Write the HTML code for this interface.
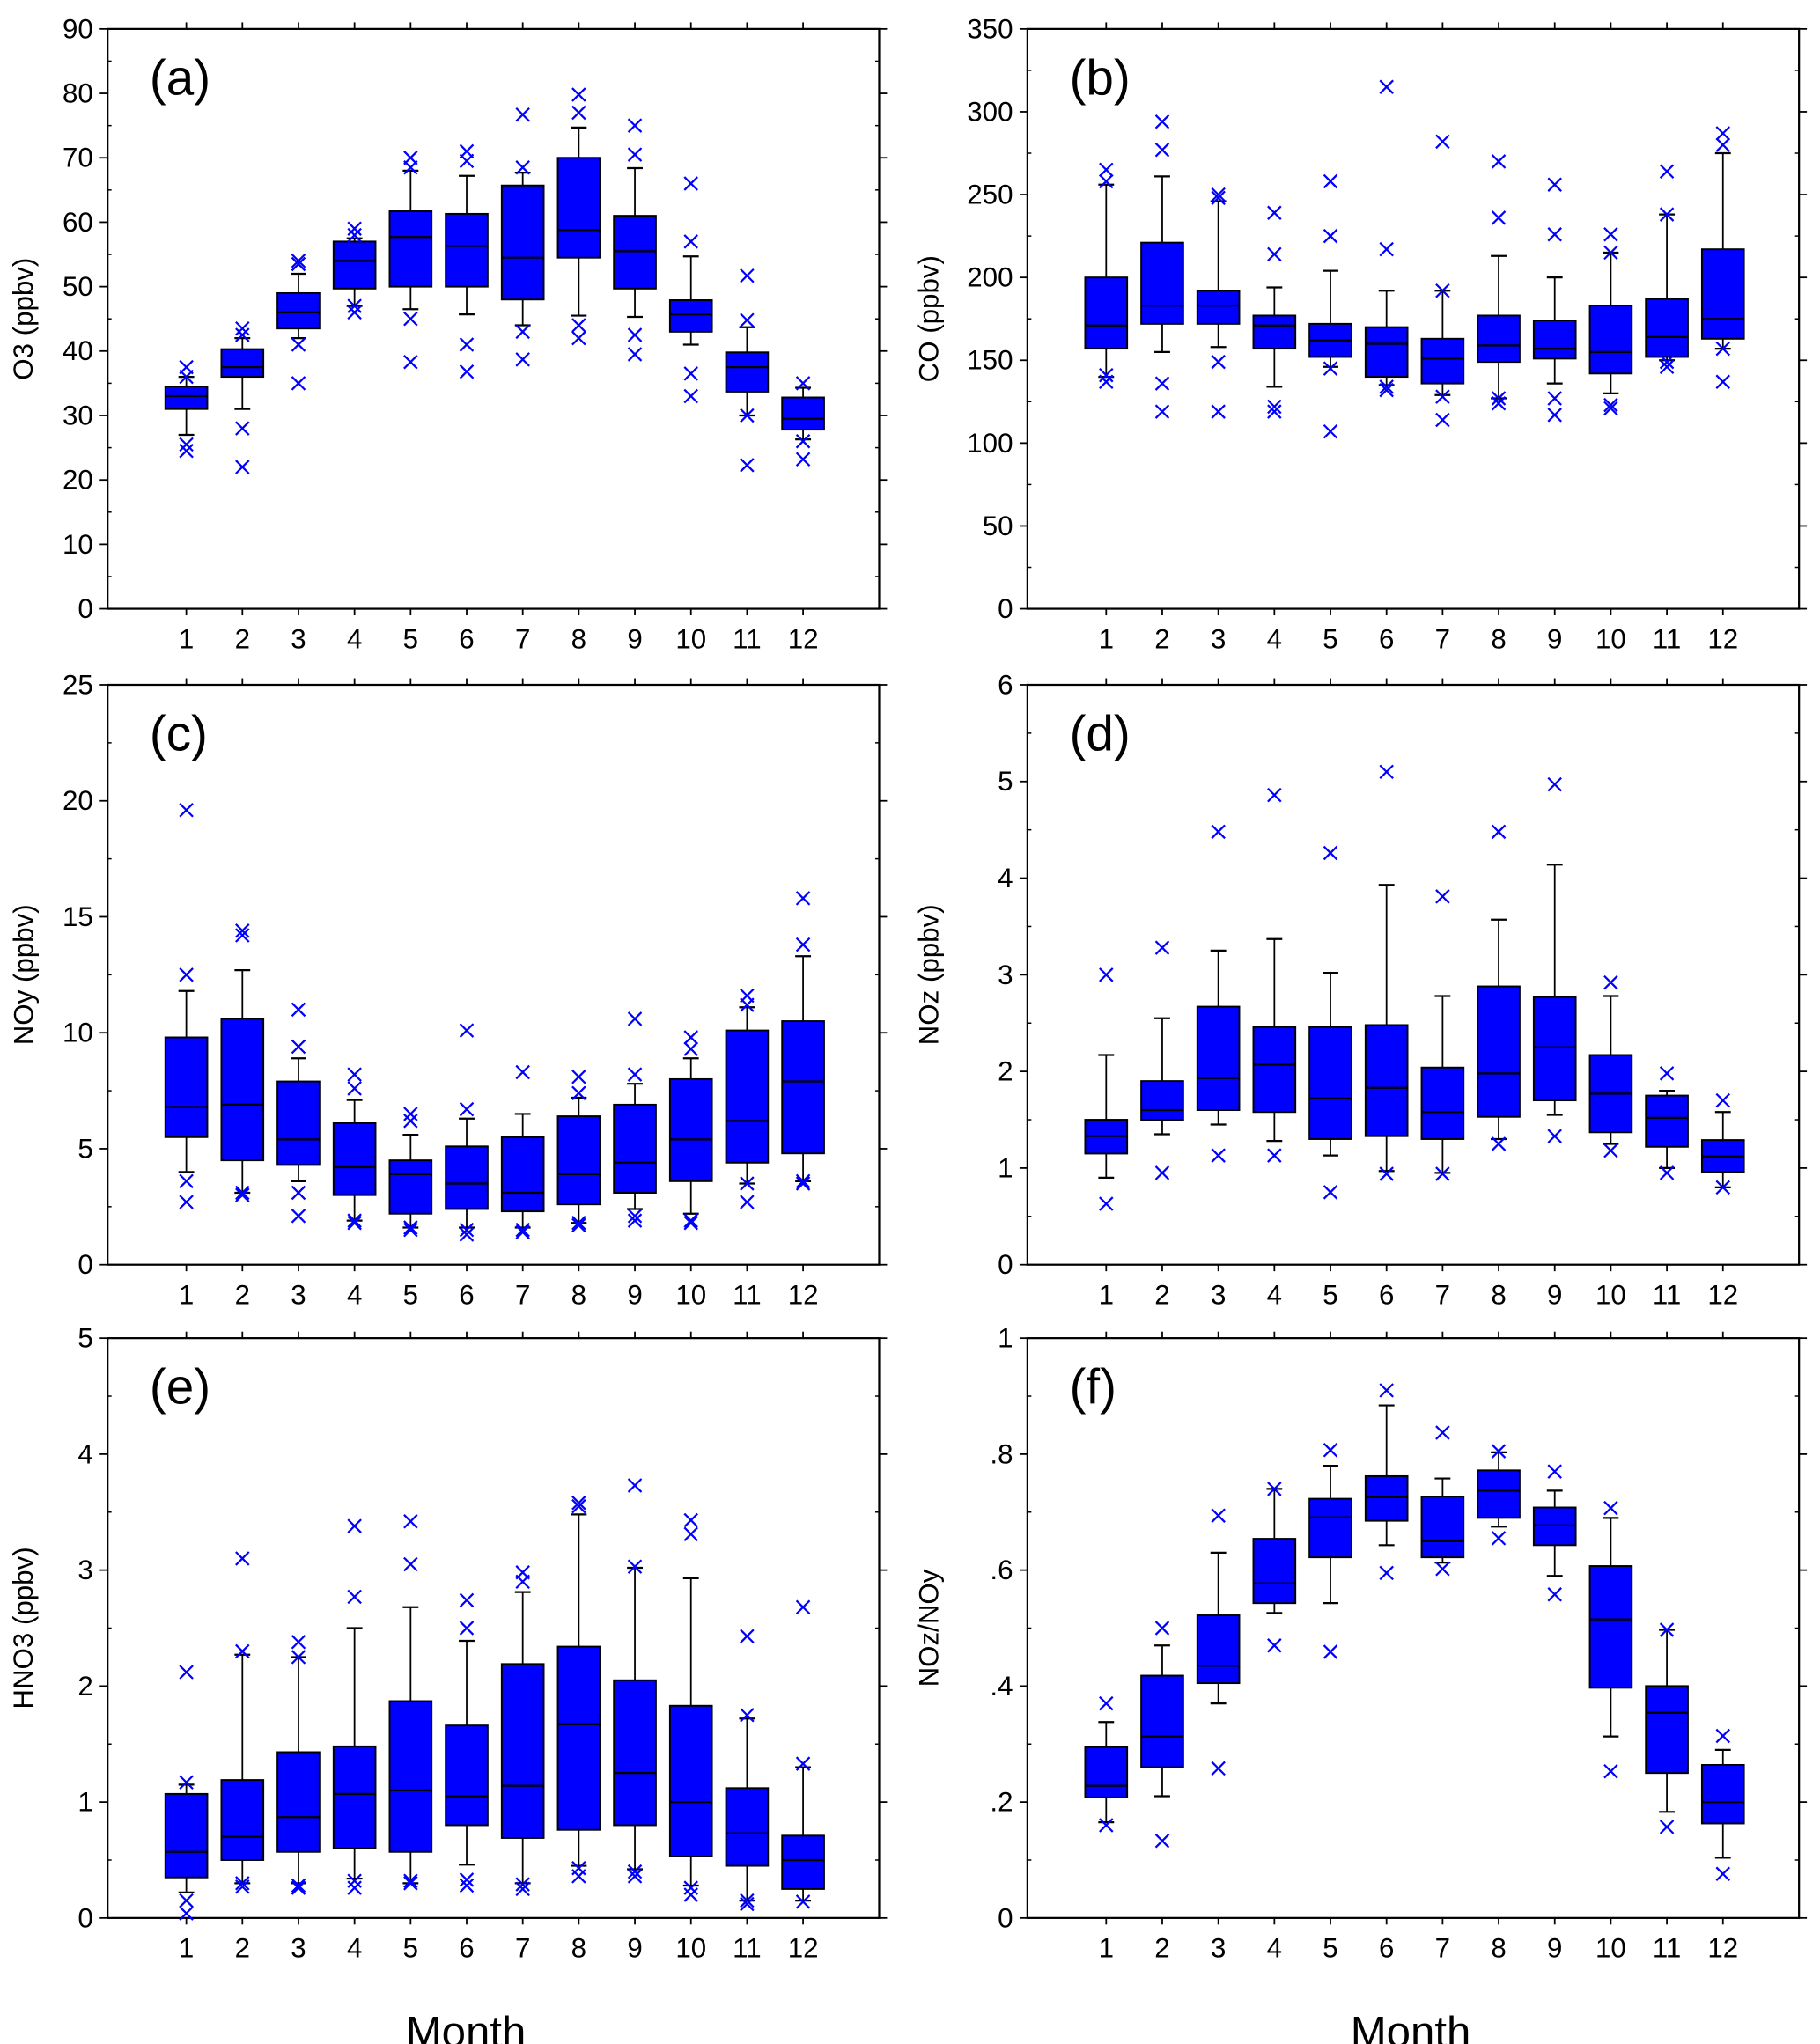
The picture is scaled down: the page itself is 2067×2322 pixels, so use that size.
<!DOCTYPE html>
<html><head><meta charset="utf-8"><style>
html,body{margin:0;padding:0;background:#fff}
svg{display:block}
text{font-family:"Liberation Sans",Arial,sans-serif;fill:#000}
</style></head><body>
<svg id="fig" xmlns="http://www.w3.org/2000/svg" width="2067" height="2322" viewBox="0 0 1387 1558">
<rect width="1387" height="1558" fill="#fff"/>
<text x="355" y="1560" font-size="33" text-anchor="middle">Month</text>
<text x="1075" y="1560" font-size="33" text-anchor="middle">Month</text>
</svg>
<script>
const months=[1,2,3,4,5,6,7,8,9,10,11,12];
// O3
const o3Stats=[[27,31,33,34.5,36],[31,36,37.5,40.3,42],[42,43.5,46,49,52],[47,49.7,54,57,57.5],[46.5,50,57.7,61.7,68],[45.7,50,56.3,61.3,67.2],[44,48,54.5,65.7,67.7],[45.5,54.5,58.8,70,74.7],[45.3,49.7,55.5,61,68.4],[41,43,45.7,47.9,54.7],[30,33.7,37.5,39.8,43.7],[26.3,27.8,29.5,32.8,34.3]];
const o3Out=[[37.5,36,25.5,24.5],[43.5,42.5,28,22],[54,53.5,41,35],[59,58,47,46],[70,68.5,45,38.3],[71,69.5,41,36.8],[76.7,68.5,43,38.7],[79.8,77,44,42],[75,70.5,42.5,39.5],[66,57,36.5,33],[51.7,44.8,30,22.3],[35,26,23.2]];
const o3Ticks=[0,10,20,30,40,50,60,70,80,90];
// CO
const coStats=[[140,157,171,200,256],[155,172,183,221,261],[158,172,183,192,246],[134,157,171,177,194],[146,152,162,172,204],[135,140,160,170,192],[129,136,151,163,192],[127,149,159,177,213],[136,151,157,174,200],[130,142,155,183,215],[150,152,164,187,238],[157,163,175,217,275]];
const coOut=[[265,258,141,137],[294,277,136,119],[250,248,149,119],[239,214,122,119],[258,225,145,107],[315,217,132,134],[282,192,128,114],[270,236,127,124],[256,226,127,117],[226,215,123,121],[264,238,149,146],[287,280,157,137]];
const coTicks=[0,50,100,150,200,250,300,350];
// NOy
const noyStats=[[4,5.5,6.8,9.8,11.8],[3.1,4.5,6.9,10.6,12.7],[3.6,4.3,5.4,7.9,8.9],[1.9,3.0,4.2,6.1,7.1],[1.6,2.2,3.9,4.5,5.6],[1.6,2.4,3.5,5.1,6.3],[1.6,2.3,3.1,5.5,6.5],[1.8,2.6,3.9,6.4,7.2],[2.4,3.1,4.4,6.9,7.8],[2.2,3.6,5.4,8.0,8.9],[3.5,4.4,6.2,10.1,11.1],[3.6,4.8,7.9,10.5,13.3]];
const noyOut=[[19.6,12.5,3.6,2.7],[14.4,14.2,3.1,3.0],[11.0,9.4,3.1,2.1],[8.2,7.6,1.9,1.8],[6.5,6.2,1.6,1.5],[10.1,6.7,1.5,1.3],[8.3,1.5,1.4],[8.1,7.4,1.8,1.7],[10.6,8.2,2.1,1.9],[9.8,9.3,1.9,1.8],[11.6,11.2,3.5,2.7],[15.8,13.8,3.6,3.5]];
const noyTicks=[0,5,10,15,20,25];
// NOz
const nozStats=[[0.9,1.15,1.33,1.5,2.17],[1.35,1.5,1.6,1.9,2.55],[1.45,1.6,1.93,2.67,3.25],[1.28,1.58,2.07,2.46,3.37],[1.13,1.3,1.72,2.46,3.02],[0.97,1.33,1.83,2.48,3.93],[0.95,1.3,1.58,2.04,2.78],[1.3,1.53,1.98,2.88,3.57],[1.55,1.7,2.25,2.77,4.14],[1.25,1.37,1.77,2.17,2.78],[1.0,1.22,1.52,1.75,1.8],[0.8,0.96,1.12,1.29,1.58]];
const nozOut=[[3.0,0.63],[3.28,0.95],[4.48,1.13],[4.86,1.13],[4.26,0.75],[5.1,0.94],[3.81,0.94],[4.48,1.25],[4.97,1.33],[2.92,1.18],[1.98,0.95],[1.7,0.8]];
const nozTicks=[0,1,2,3,4,5,6];
// HNO3
const hno3Stats=[[0.22,0.35,0.57,1.07,1.15],[0.3,0.5,0.7,1.19,2.27],[0.3,0.57,0.87,1.43,2.25],[0.34,0.6,1.07,1.48,2.5],[0.3,0.57,1.1,1.87,2.68],[0.46,0.8,1.05,1.66,2.39],[0.3,0.69,1.14,2.19,2.81],[0.45,0.76,1.67,2.34,3.48],[0.42,0.8,1.25,2.05,3.02],[0.28,0.53,1.0,1.83,2.93],[0.15,0.45,0.73,1.12,1.72],[0.15,0.25,0.5,0.71,1.3]];
const hno3Out=[[2.12,1.17,0.15,0.04],[3.1,2.3,0.3,0.27],[2.38,2.25,0.28,0.26],[3.38,2.77,0.32,0.26],[3.42,3.05,0.32,0.3],[2.74,2.5,0.33,0.28],[2.98,2.9,0.29,0.25],[3.58,3.55,0.43,0.36],[3.73,3.03,0.4,0.36],[3.43,3.31,0.26,0.2],[2.43,1.75,0.15,0.12],[2.68,1.33,0.14]];
const hno3Ticks=[0,1,2,3,4,5];
// NOz/NOy
const ratioStats=[[.165,.208,.228,.295,.338],[.21,.26,.313,.418,.47],[.37,.405,.435,.522,.63],[.526,.543,.577,.654,.74],[.543,.622,.691,.723,.78],[.643,.685,.726,.762,.884],[.613,.622,.65,.727,.758],[.675,.69,.737,.772,.803],[.59,.643,.677,.708,.737],[.313,.397,.515,.607,.69],[.183,.25,.354,.4,.497],[.104,.163,.2,.264,.29]];
const ratioOut=[[.37,.16],[.5,.133],[.694,.258],[.74,.47],[.807,.459],[.91,.595],[.837,.602],[.805,.655],[.77,.558],[.707,.253],[.497,.157],[.314,.076]];
const ratioTicks=[0,.2,.4,.6,.8,1];
const ratioTickLabels=["0",".2",".4",".6",".8","1"];

const NS="http://www.w3.org/2000/svg";
const svg=document.getElementById('fig');
function mk(tag,attrs,parent){const e=document.createElementNS(NS,tag);for(const k in attrs)e.setAttribute(k,attrs[k]);(parent||svg).appendChild(e);return e;}

const panels=[
 {id:'a',x0:82,y0:22,stats:o3Stats,out:o3Out,ticks:o3Ticks,labels:null,ylab:'O3 (ppbv)',tx:-57},
 {id:'b',x0:783,y0:22,stats:coStats,out:coOut,ticks:coTicks,labels:null,ylab:'CO (ppbv)',tx:-68},
 {id:'c',x0:82,y0:522,stats:noyStats,out:noyOut,ticks:noyTicks,labels:null,ylab:'NOy (ppbv)',tx:-57},
 {id:'d',x0:783,y0:522,stats:nozStats,out:nozOut,ticks:nozTicks,labels:null,ylab:'NOz (ppbv)',tx:-68},
 {id:'e',x0:82,y0:1020,stats:hno3Stats,out:hno3Out,ticks:hno3Ticks,labels:null,ylab:'HNO3 (ppbv)',tx:-57},
 {id:'f',x0:783,y0:1020,stats:ratioStats,out:ratioOut,ticks:ratioTicks,labels:ratioTickLabels,ylab:'NOz/NOy',tx:-68}
];
const W=588,H=442,step=42.73,off=60,bw=16,cap=6;
panels.forEach(p=>{
  const g=mk('g',{});
  
  
  const ymax=p.ticks[p.ticks.length-1];
  const ys=v=>p.y0+H-(v/ymax)*H;
  const xs=m=>p.x0+off+(m-1)*step;
  const fr=mk('rect',{x:p.x0,y:p.y0,width:W,height:H,fill:'none',stroke:'#000','stroke-width':1.5},g);
  
  
  const n=p.ticks.length;
  p.ticks.forEach((t,i)=>{
    const y=ys(t);
    mk('line',{x1:p.x0-6,x2:p.x0,y1:y,y2:y,stroke:'#000','stroke-width':1.2},g);
    mk('line',{x1:p.x0+W,x2:p.x0+W+6,y1:y,y2:y,stroke:'#000','stroke-width':1.2},g);
    if(i<n-1){const ym=ys((t+p.ticks[i+1])/2);
      mk('line',{x1:p.x0,x2:p.x0+3,y1:ym,y2:ym,stroke:'#000','stroke-width':1},g);
      mk('line',{x1:p.x0+W-3,x2:p.x0+W,y1:ym,y2:ym,stroke:'#000','stroke-width':1},g);}
    const tx=mk('text',{x:p.x0-11,y:y+7,'font-size':21,'text-anchor':'end'},g);
    tx.textContent=p.labels?p.labels[i]:String(t);
    
    
  });
  months.forEach(m=>{
    const x=xs(m);
    mk('line',{x1:x,x2:x,y1:p.y0+H,y2:p.y0+H+5,stroke:'#000','stroke-width':1.2},g);
    mk('line',{x1:x,x2:x,y1:p.y0-5,y2:p.y0,stroke:'#000','stroke-width':1.2},g);
    const tx=mk('text',{x:x,y:p.y0+H+30,'font-size':21,'text-anchor':'middle'},g);
    tx.textContent=String(m);
    
    
  });
  p.stats.forEach((s,i)=>{
    const x=xs(months[i]);
    const bg=mk('g',{},g);
    
    
    mk('line',{x1:x,x2:x,y1:ys(s[0]),y2:ys(s[4]),stroke:'#000','stroke-width':1.2},bg);
    mk('line',{x1:x-cap,x2:x+cap,y1:ys(s[0]),y2:ys(s[0]),stroke:'#000','stroke-width':1.5},bg);
    mk('line',{x1:x-cap,x2:x+cap,y1:ys(s[4]),y2:ys(s[4]),stroke:'#000','stroke-width':1.5},bg);
    mk('rect',{x:x-bw,y:ys(s[3]),width:2*bw,height:ys(s[1])-ys(s[3]),fill:'#0000ff',stroke:'#000','stroke-width':1.3},bg);
    mk('line',{x1:x-bw,x2:x+bw,y1:ys(s[2]),y2:ys(s[2]),stroke:'#000','stroke-width':1.5},bg);
    p.out[i].forEach(v=>{
      const y=ys(v),r=5;
      const o=mk('path',{d:`M${x-r},${y-r}L${x+r},${y+r}M${x-r},${y+r}L${x+r},${y-r}`,stroke:'#0000ff','stroke-width':1.5,fill:'none'},bg);
      
      
    });
  });
  const lt=mk('text',{x:p.x0+32,y:p.y0+50,'font-size':38},g);
  lt.textContent='('+p.id+')';
  
  
  const cx=p.x0+p.tx, cy=p.y0+H/2;
  const yl=mk('text',{x:cx,y:cy,'font-size':21,'text-anchor':'middle',transform:`rotate(-90 ${cx} ${cy})`},g);
  yl.textContent=p.ylab;
  
  
});
</script>
</body></html>
